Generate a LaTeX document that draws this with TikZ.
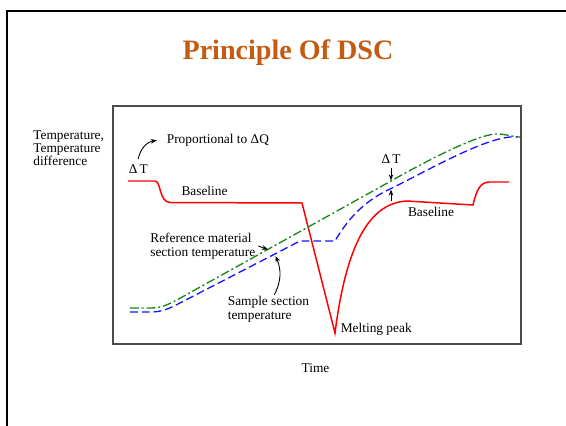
\documentclass[tikz,border=0pt]{standalone}
\usepackage{fontspec}
\setmainfont{Liberation Serif}
\usetikzlibrary{arrows.meta}
\definecolor{titlebrown}{RGB}{197,90,17}
\definecolor{refgreen}{RGB}{25,135,25}
\definecolor{sampleblue}{RGB}{20,20,255}
\tikzstyle{label text}=[inner sep=0pt,font=\fontsize{7.6}{7.6}\selectfont]
\tikzstyle{dsc curve}=[red,line width=0.85pt]
\tikzstyle{ref curve}=[refgreen,line width=0.75pt,dash pattern=on 5pt off 1.6pt on 1.2pt off 1.6pt]
\tikzstyle{sample curve}=[sampleblue,line width=0.75pt,dash pattern=on 4.5pt off 2.2pt]
\tikzstyle{pointer}=[-{Stealth[length=3.5pt,width=2.6pt]},line width=0.5pt]

\begin{document}
\begin{tikzpicture}[x=0.02cm,y=-0.02cm]
		\useasboundingbox (0,0) rectangle (566,426);
		\draw[line width=1.3pt] (7,426) -- (7,11) -- (566,11);
		\draw[line width=0.8pt,black!70] (113,106) rectangle (521,344);

		\node[inner sep=0pt,font=\fontsize{16}{16}\selectfont\bfseries,text=titlebrown,anchor=base] (title) at (288,59) {Principle Of DSC};

		\draw[dsc curve]
			(128,181) -- (155,181) .. controls (161,181) and (159,202) .. (170,202.5) -- (302,203) -- (335,333)
			.. controls (345,255) and (365,203) .. (407,201) -- (473,205)
			.. controls (477,188) and (481,182) .. (490,182) -- (509,182);
		\draw[ref curve]
			(130,308) -- (150,308) .. controls (160,308) and (166,305.5) .. (175,301) -- (391,181)
			.. controls (430,159) and (475,136) .. (495,134) .. controls (505,133.5) and (512,137) .. (520,137);
		\draw[sample curve]
			(130,312) -- (150,312) .. controls (162,312) and (168,309) .. (178,304) -- (300,241) -- (335,241)
			.. controls (345,224) and (360,203) .. (390,189) .. controls (425,172) and (480,140) .. (510,137) -- (517,137);

		\node[label text,align=left,anchor=west,font=\fontsize{7.6}{7.4}\selectfont] (yaxis) at (33,148.5) {Temperature,\\Temperature\\difference};
		\node[label text,anchor=base] (xaxis) at (315.5,372.3) {Time};
		\node[label text,anchor=base west] (dTleft) at (128.5,173.3) {Δ\,T};
		\node[label text,anchor=base west] (prop) at (166.5,143.5) {Proportional to ΔQ};
		\node[label text,anchor=base] (base1) at (204.5,195) {Baseline};
		\node[label text,anchor=base] (base2) at (431,216.7) {Baseline};
		\node[label text,anchor=base] (dTright) at (391,164) {Δ\,T};
		\node[label text,align=left,anchor=west,font=\fontsize{7.6}{7.9}\selectfont] (ref) at (150,246) {Reference material\\section temperature};
		\node[label text,align=left,anchor=west,font=\fontsize{7.6}{7.9}\selectfont] (sam) at (227.5,309) {Sample section\\temperature};
		\node[label text,anchor=base west] (melt) at (340.5,332.7) {Melting peak};

		\coordinate (refTip) at (268,249.5);
		\coordinate (samTip) at (275.5,256);
		\coordinate (greenTip) at (391,180.5);
		\coordinate (blueTip) at (391,189.5);
		\coordinate (dTfoot) at (391,201);

		\draw[pointer] ([yshift=3pt]dTleft.north) to[bend left=35] ([xshift=-5.5pt]prop.west);
		\draw[pointer] ([xshift=1.5pt]ref.east) -- (refTip);
		\draw[pointer] ([xshift=3.4pt,yshift=0.5pt]sam.north) to[bend right=25] (samTip);
		\draw[pointer] ([yshift=-2pt]dTright.south) -- (greenTip);
		\draw[pointer] (dTfoot) -- (blueTip);
\end{tikzpicture}
\end{document}
